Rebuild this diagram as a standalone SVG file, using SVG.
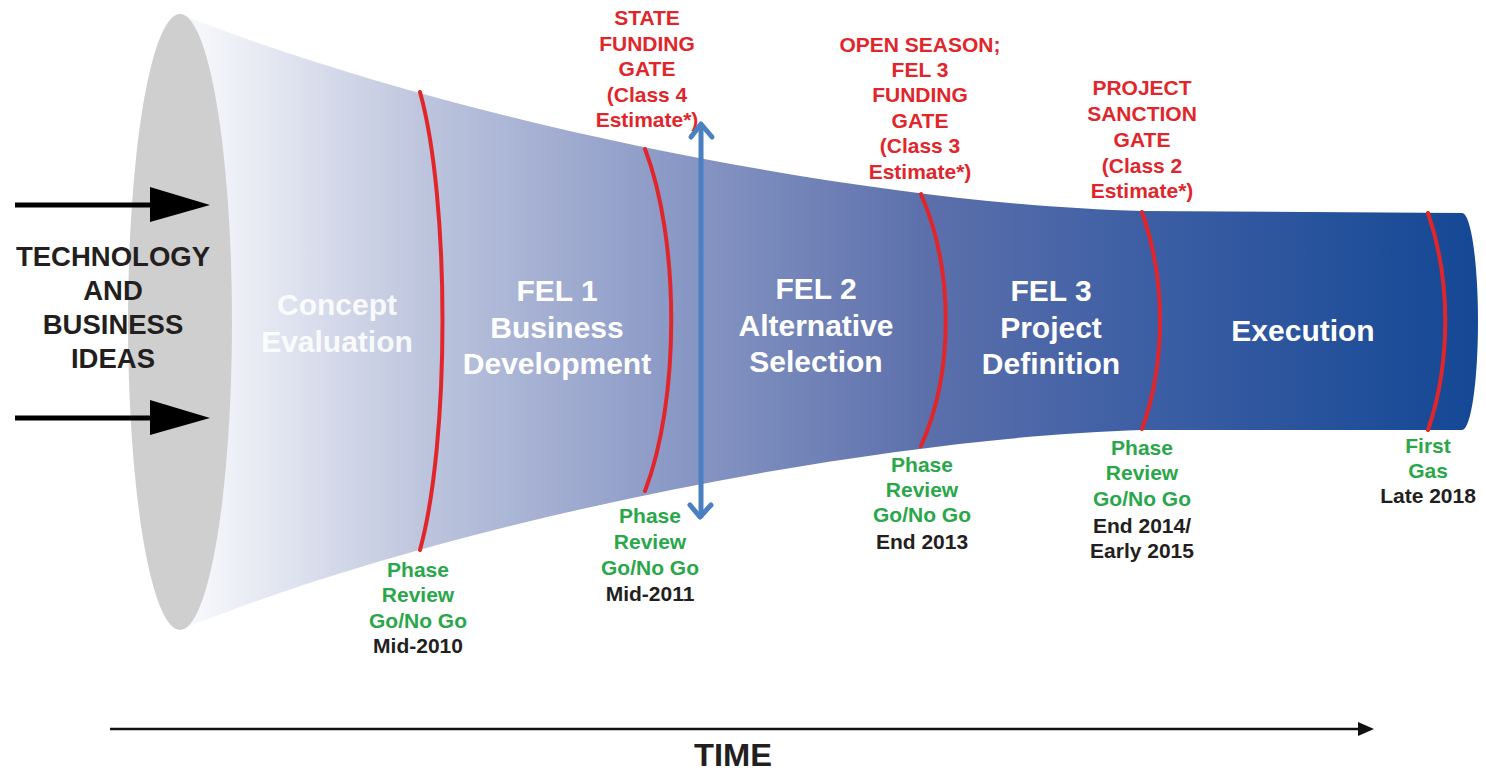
<svg xmlns="http://www.w3.org/2000/svg" width="1486" height="771" viewBox="0 0 1486 771">
<defs>
<linearGradient id="funnelGrad" gradientUnits="userSpaceOnUse" x1="200" y1="0" x2="1470" y2="0">
<stop offset="0" stop-color="#f6f7fb"/>
<stop offset="0.18" stop-color="#bcc4dd"/>
<stop offset="0.36" stop-color="#8d9bc7"/>
<stop offset="0.57" stop-color="#5c70ab"/>
<stop offset="0.75" stop-color="#3c5ea4"/>
<stop offset="1" stop-color="#154895"/>
</linearGradient>
</defs>
<style>
.gate{fill:none;stroke:#e1262b;stroke-width:4;stroke-linecap:round}
.phase{font-family:"Liberation Sans",Arial,sans-serif;font-weight:bold;font-size:30px;fill:#ffffff;text-anchor:middle}
.red{font-family:"Liberation Sans",Arial,sans-serif;font-weight:bold;font-size:21px;fill:#e1262b;text-anchor:middle}
.green{font-family:"Liberation Sans",Arial,sans-serif;font-weight:bold;font-size:21px;fill:#2aa74a;text-anchor:middle}
.dark{font-family:"Liberation Sans",Arial,sans-serif;font-weight:bold;font-size:21px;fill:#231f20;text-anchor:middle}
.ideas{font-family:"Liberation Sans",Arial,sans-serif;font-weight:bold;font-size:27.5px;fill:#231f20;text-anchor:middle}
.blue{fill:none;stroke:#4a7fc0;stroke-width:5;stroke-linecap:round;stroke-linejoin:round}
</style>

<g id="funnel">
<path d="M180,14 C460,125 880,205 1142,211 L1462,213 A16,108.5 0 0 1 1462,430 L1142,430 C880,438 460,517 180,630 Z" fill="url(#funnelGrad)"/>
<ellipse cx="180" cy="322" rx="52" ry="308" fill="#cfcfcf"/>
</g>

<g id="gates">
<path class="gate" d="M420,92 C450,200 450,440 420,550"/>
<path class="gate" d="M645,149 C680,240 680,400 645,491"/>
<path class="gate" d="M921,194 C954,270 954,372 921,446"/>
<path class="gate" d="M1142,212 C1166,280 1166,362 1142,429"/>
<path class="gate" d="M1428,213 C1451,280 1451,362 1428,430"/>
</g>

<g id="ideas">
<text class="ideas" x="113" y="266">TECHNOLOGY</text>
<text class="ideas" x="113" y="300">AND</text>
<text class="ideas" x="113" y="334">BUSINESS</text>
<text class="ideas" x="113" y="368">IDEAS</text>
</g>

<g id="concept-evaluation">
<text class="phase" x="337" y="315" fill-opacity="0.9">Concept</text>
<text class="phase" x="337" y="352" fill-opacity="0.9">Evaluation</text>
</g>
<g id="fel1">
<text class="phase" x="557" y="301">FEL 1</text>
<text class="phase" x="557" y="338">Business</text>
<text class="phase" x="557" y="374">Development</text>
</g>
<g id="fel2">
<text class="phase" x="816" y="299">FEL 2</text>
<text class="phase" x="816" y="336">Alternative</text>
<text class="phase" x="816" y="372">Selection</text>
</g>
<g id="fel3">
<text class="phase" x="1051" y="301">FEL 3</text>
<text class="phase" x="1051" y="338">Project</text>
<text class="phase" x="1051" y="374">Definition</text>
</g>
<g id="execution">
<text class="phase" x="1303" y="341">Execution</text>
</g>

<g id="state-funding-gate">
<text class="red" x="647" y="25">STATE</text>
<text class="red" x="647" y="51">FUNDING</text>
<text class="red" x="647" y="76">GATE</text>
<text class="red" x="647" y="102">(Class 4</text>
<text class="red" x="647" y="127">Estimate*)</text>
</g>
<g id="fel3-funding-gate">
<text class="red" x="920" y="52">OPEN SEASON;</text>
<text class="red" x="920" y="77">FEL 3</text>
<text class="red" x="920" y="102">FUNDING</text>
<text class="red" x="920" y="128">GATE</text>
<text class="red" x="920" y="153">(Class 3</text>
<text class="red" x="920" y="179">Estimate*)</text>
</g>
<g id="project-sanction-gate">
<text class="red" x="1142" y="95">PROJECT</text>
<text class="red" x="1142" y="121">SANCTION</text>
<text class="red" x="1142" y="147">GATE</text>
<text class="red" x="1142" y="173">(Class 2</text>
<text class="red" x="1142" y="198">Estimate*)</text>
</g>

<g id="review-2010">
<text class="green" x="418" y="577">Phase</text>
<text class="green" x="418" y="602">Review</text>
<text class="green" x="418" y="628">Go/No Go</text>
<text class="dark" x="418" y="653">Mid-2010</text>
</g>
<g id="review-2011">
<text class="green" x="650" y="523">Phase</text>
<text class="green" x="650" y="549">Review</text>
<text class="green" x="650" y="575">Go/No Go</text>
<text class="dark" x="650" y="601">Mid-2011</text>
</g>
<g id="review-2013">
<text class="green" x="922" y="472">Phase</text>
<text class="green" x="922" y="497">Review</text>
<text class="green" x="922" y="522">Go/No Go</text>
<text class="dark" x="922" y="549">End 2013</text>
</g>
<g id="review-2015">
<text class="green" x="1142" y="455">Phase</text>
<text class="green" x="1142" y="480">Review</text>
<text class="green" x="1142" y="506">Go/No Go</text>
<text class="dark" x="1142" y="533">End 2014/</text>
<text class="dark" x="1142" y="558">Early 2015</text>
</g>
<g id="first-gas">
<text class="green" x="1428" y="453">First</text>
<text class="green" x="1428" y="478">Gas</text>
<text class="dark" x="1428" y="503">Late 2018</text>
</g>

<g id="time-label">
<text x="733" y="766" font-family="'Liberation Sans',Arial,sans-serif" font-weight="bold" font-size="31" fill="#231f20" text-anchor="middle" textLength="78" lengthAdjust="spacingAndGlyphs">TIME</text>
</g>

<g id="connectors">
<line x1="15" y1="205" x2="152" y2="205" stroke="#000" stroke-width="5"/>
<polygon points="150,187 210,205 150,222" fill="#000"/>
<line x1="15" y1="418" x2="152" y2="418" stroke="#000" stroke-width="5"/>
<polygon points="150,400 210,418 150,435" fill="#000"/>
<line class="blue" x1="701" y1="125" x2="701" y2="516"/>
<polyline class="blue" points="691,137 701,124 712,137"/>
<polyline class="blue" points="690,505 700,517 711,505"/>
<line x1="110" y1="729" x2="1364" y2="729" stroke="#111" stroke-width="2.5"/>
<polygon points="1358,722 1374,729 1358,736" fill="#111"/>
</g>
</svg>
